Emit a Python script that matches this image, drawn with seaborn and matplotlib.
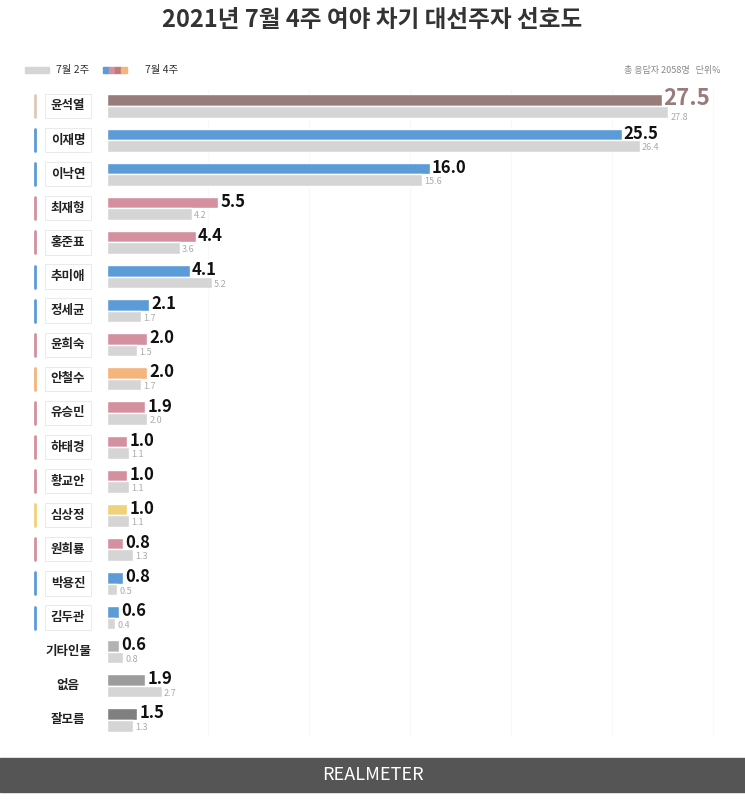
import matplotlib.pyplot as plt
import seaborn as sns
import pandas as pd

names = ["윤석열", "이재명", "이낙연", "최재형", "홍준표", "추미애", "정세균", "윤희숙", "안철수", "유승민",
         "하태경", "황교안", "심상정", "원희룡", "박용진", "김두관", "기타인물", "없음", "잘모름"]
week4 = [27.5, 25.5, 16.0, 5.5, 4.4, 4.1, 2.1, 2.0, 2.0, 1.9, 1.0, 1.0, 1.0, 0.8, 0.8, 0.6, 0.6, 1.9, 1.5]
week2 = [27.8, 26.4, 15.6, 4.2, 3.6, 5.2, 1.7, 1.5, 1.7, 2.0, 1.1, 1.1, 1.1, 1.3, 0.5, 0.4, 0.8, 2.7, 1.3]

BROWN, BLUE, PINK, ORANGE, YELLOW = "#9a7b7b", "#5b9bd8", "#d4909e", "#f5b47c", "#f0d27a"
colors = [BROWN, BLUE, BLUE, PINK, PINK, BLUE, BLUE, PINK, ORANGE, PINK,
          PINK, PINK, YELLOW, PINK, BLUE, BLUE, "#b3b3b3", "#9c9c9c", "#808080"]
accent = ["#e0c8b8", BLUE, BLUE, PINK, PINK, BLUE, BLUE, PINK, ORANGE, PINK,
          PINK, PINK, YELLOW, PINK, BLUE, BLUE, None, None, None]

sns.set_style("white")
plt.rcParams["font.family"] = ["Noto Sans CJK KR", "DejaVu Sans"]

df = pd.DataFrame({
    "name": names * 2,
    "value": week4 + week2,
    "period": ["7월 4주"] * len(names) + ["7월 2주"] * len(names),
})

fig = plt.figure(figsize=(7.45, 8.07), dpi=100)
ax = fig.add_axes([107 / 745, 1 - 737 / 807, 1 - 107 / 745, (737 - 89) / 807])
sns.barplot(data=df, x="value", y="name", hue="period", hue_order=["7월 4주", "7월 2주"],
            palette=["#5b9bd8", "#d5d5d5"], width=0.68, ax=ax, legend=False, saturation=1)

n = len(names)
cur = ax.patches[:n]
prev = ax.patches[n:2 * n]
for p, c in zip(cur, colors):
    p.set_facecolor(c)
for p in prev:
    p.set_facecolor("#d5d5d5")

for i, (p, v) in enumerate(zip(cur, week4)):
    yc = p.get_y() + p.get_height() / 2
    if i == 0:
        ax.text(v + 0.05, yc - 0.05, f"{v:.1f}", va="center", ha="left", fontsize=16,
                fontweight="bold", color=BROWN)
    else:
        ax.text(v + 0.1, yc - 0.02, f"{v:.1f}", va="center", ha="left", fontsize=12,
                fontweight="bold", color="#111111")
for i, (p, v) in enumerate(zip(prev, week2)):
    yc = p.get_y() + p.get_height() / 2
    dy = 0.18 if i == 0 else 0.05
    ax.text(v + 0.1, yc + dy, f"{v:.1f}", va="center", ha="left", fontsize=6.5, color="#aaaaaa")

ax.set_xlim(0, 31.6)
ax.set_ylim(n - 0.5, -0.5)
ax.set_xlabel("")
ax.set_ylabel("")
ax.set_xticks([])
ax.set_yticks([])
sns.despine(ax=ax, left=True, bottom=True)
for x in [5, 10, 15, 20, 25, 30]:
    ax.axvline(x, color="#f8f8f8", lw=0.8, zorder=0)

# name boxes
for i, nm in enumerate(names):
    ypx = 106 + 34.1 * i
    yf = 1 - ypx / 807
    if accent[i] is not None:
        fig.text(68 / 745, yf, nm, ha="center", va="center", fontsize=9, color="#222222",
                 fontweight="bold",
                 bbox=dict(boxstyle="square,pad=0.45", fc="white", ec="#e6e6e6", lw=0.6))
        fig.add_artist(plt.Line2D([35 / 745, 35 / 745], [yf - 11 / 807, yf + 11 / 807],
                                  color=accent[i], lw=2))
    else:
        fig.text(68 / 745, yf, nm, ha="center", va="center", fontsize=9, color="#222222",
                 fontweight="bold")

fig.text(0.5, 1 - 20 / 807, "2021년 7월 4주 여야 차기 대선주자 선호도", ha="center", va="center",
         fontsize=17, fontweight="bold", color="#333333")

# legend
fig.add_artist(plt.Rectangle((25 / 745, 1 - 73 / 807), 24 / 745, 6 / 807, color="#d5d5d5"))
fig.text(56 / 745, 1 - 70 / 807, "7월 2주", fontsize=7.5, va="center", color="#333333")
for k, c in enumerate([BLUE, PINK, "#c07a7a", ORANGE]):
    fig.add_artist(plt.Rectangle(((103 + 6 * k) / 745, 1 - 73 / 807), 6 / 745, 6 / 807, color=c))
fig.text(145 / 745, 1 - 70 / 807, "7월 4주", fontsize=7.5, va="center", color="#333333")
fig.text(720 / 745, 1 - 70 / 807, "총 응답자 2058명   단위%", fontsize=6.5, va="center",
         ha="right", color="#888888")

# footer
fig.add_artist(plt.Rectangle((0, 1 - 792 / 807), 1, 34 / 807, color="#555555"))
fig.text(0.5, 1 - 775 / 807, "REALMETER", ha="center", va="center", fontsize=13, color="white")

fig.savefig("out.png", dpi=100, facecolor="white")
